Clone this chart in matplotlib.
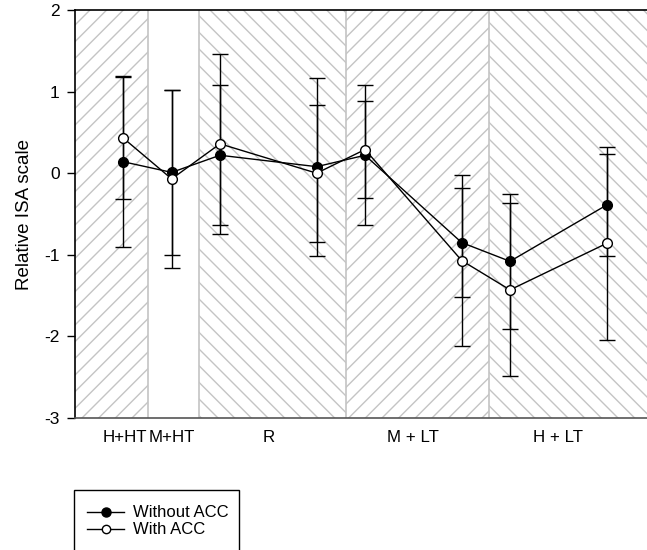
import matplotlib
matplotlib.use("Agg")
import matplotlib.pyplot as plt
from matplotlib.lines import Line2D
from matplotlib.patches import Rectangle

plt.rcParams['font.family'] = ['Liberation Sans', 'DejaVu Sans']
plt.rcParams['hatch.color'] = '#c4c4c4'
plt.rcParams['hatch.linewidth'] = 1.0

# data
xpos = [0, 1, 2, 4, 5, 7, 8, 10]
without_acc = [0.14, 0.01, 0.22, 0.08, 0.22, -0.85, -1.08, -0.39]
without_err = [1.05, 1.01, 0.86, 1.09, 0.86, 0.67, 0.83, 0.63]
with_acc = [0.43, -0.07, 0.36, 0.00, 0.29, -1.07, -1.43, -0.86]
with_err = [0.75, 1.09, 1.10, 0.84, 0.59, 1.05, 1.06, 1.18]

bounds = [-1, 0.5, 1.57, 4.6, 7.57, 11]
hatches = ['//', None, '\\\\', '//', '\\\\']
cat_pos = [0.03, 1, 3, 6, 9]
cat_labels = ['H+HT', 'M+HT', 'R', 'M + LT', 'H + LT']

fig = plt.figure(figsize=(6.47, 5.5), dpi=100)
ax = fig.add_axes([75 / 647, 132 / 550, 580 / 647, 408 / 550])

for x0, x1, h in zip(bounds[:-1], bounds[1:], hatches):
    if h:
        ax.axvspan(x0, x1, facecolor='white', edgecolor='#c4c4c4', hatch=h, lw=0, zorder=0)
for b in bounds[1:-1]:
    ax.axvline(b, color='#c4c4c4', lw=1.2, zorder=1)

ax.errorbar(xpos, without_acc, yerr=without_err, fmt='none', ecolor='black',
            elinewidth=1, capsize=6, capthick=1, zorder=3)
ax.errorbar(xpos, with_acc, yerr=with_err, fmt='none', ecolor='black',
            elinewidth=1, capsize=6, capthick=1, zorder=3)
ax.plot(xpos, without_acc, color='black', lw=1, marker='o', ms=7,
        mfc='black', mec='black', zorder=4)
ax.plot(xpos, with_acc, color='black', lw=1, marker='o', ms=7,
        mfc='white', mec='black', mew=1, zorder=5)

ax.set_xlim(-1, 11)
ax.set_ylim(-3, 2)
ax.set_yticks([-3, -2, -1, 0, 1, 2])
ax.set_yticklabels(['-3', '-2', '-1', '0', '1', '2'], fontsize=12.5)
ax.set_xticks(cat_pos)
ax.set_xticklabels(cat_labels, fontsize=12.2)
ax.tick_params(axis='x', length=0, pad=9)
ax.tick_params(axis='y', direction='out', length=6, width=1, pad=5)
ax.set_ylabel('Relative ISA scale', fontsize=13.5, labelpad=8)
ax.spines['bottom'].set_color('#555555')
ax.spines['right'].set_visible(False)
for s in ax.spines.values():
    s.set_linewidth(1.2)

# legend box running off the bottom edge
fig.patches.append(Rectangle((74 / 647, -0.1), 165 / 647, (60 / 550) + 0.1,
                             transform=fig.transFigure, facecolor='none',
                             edgecolor='black', lw=1, clip_on=False))
handles = [Line2D([], [], color='black', lw=1, marker='o', ms=6.5, mfc='black', mec='black'),
           Line2D([], [], color='black', lw=1, marker='o', ms=6, mfc='white', mec='black')]
fig.legend(handles, ['Without ACC', 'With ACC'], loc='upper left',
           bbox_to_anchor=(79 / 647, 1 - 497 / 550), frameon=False, fontsize=12,
           handlelength=2.2, handletextpad=0.55, labelspacing=0.12, borderpad=0)

fig.savefig('out.png', dpi=100)
